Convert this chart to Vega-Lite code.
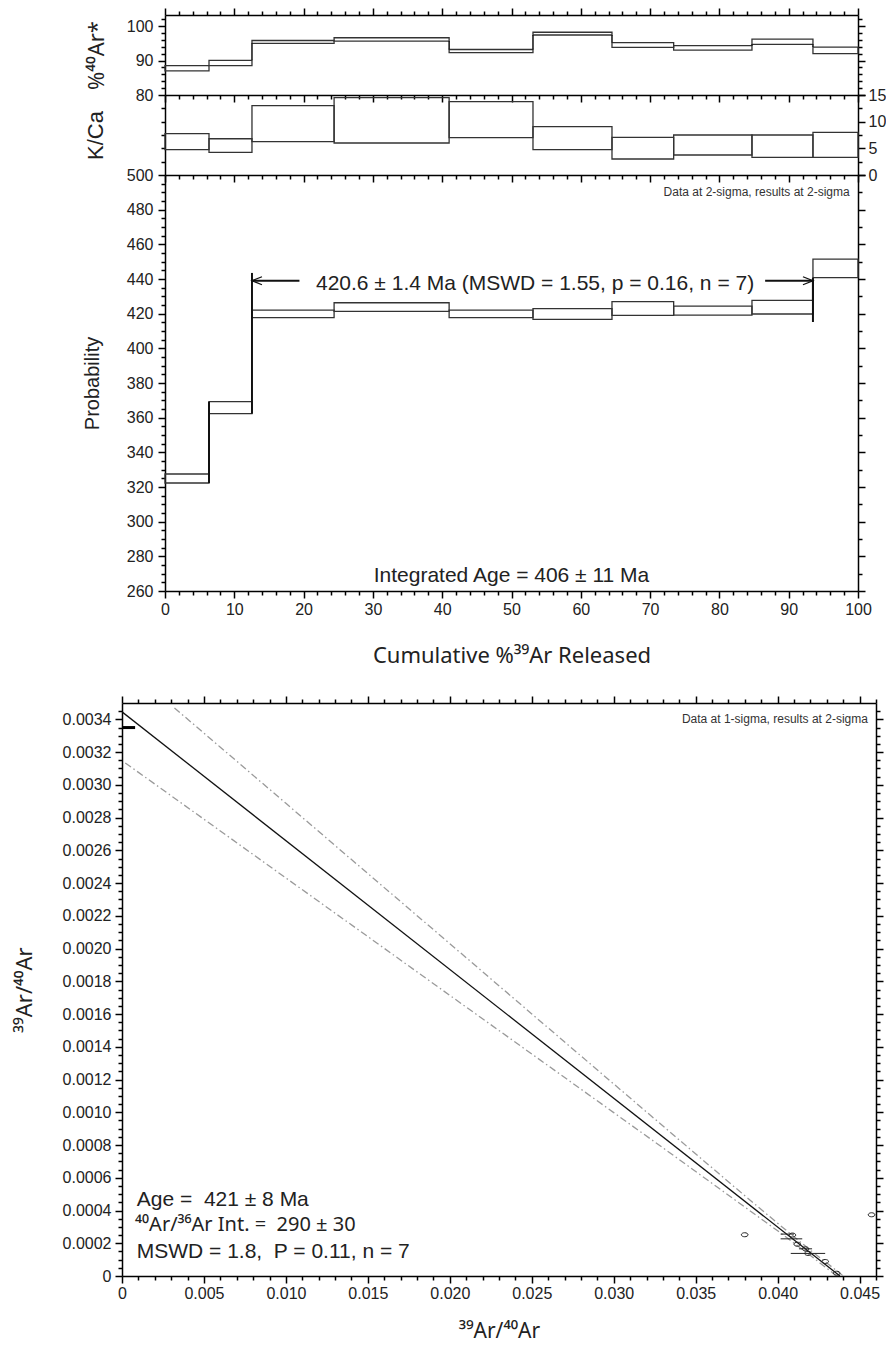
{
  "$schema": "https://vega.github.io/schema/vega-lite/v6.json",
  "padding": {"left": 13, "top": 7, "right": 0, "bottom": 10},
  "background": "white",
  "config": {
    "view": {"stroke": null},
    "font": "Liberation Sans",
    "axis": {"domainColor": "#000", "domainWidth": 1.5, "tickColor": "#000", "tickWidth": 1.5, "labelFont": "Liberation Sans", "labelFontSize": 16, "labelColor": "#222", "titleFont": "Liberation Sans", "titleFontWeight": "normal", "titleColor": "#222", "titleFontSize": 20, "grid": false, "labelFlush": false, "labelOverlap": false, "labelBound": false}
  },
  "datasets": {
    "steps": [
      {"step": 1, "x0": 0, "x1": 6.35, "ar_lo": 87.0, "ar_hi": 88.5, "kca_lo": 4.75, "kca_hi": 7.74, "age_lo": 322.3, "age_hi": 327.5},
      {"step": 2, "x0": 6.35, "x1": 12.55, "ar_lo": 88.5, "ar_hi": 90.05, "kca_lo": 4.25, "kca_hi": 6.8, "age_lo": 362.3, "age_hi": 369.2},
      {"step": 3, "x0": 12.55, "x1": 24.4, "ar_lo": 95.0, "ar_hi": 95.8, "kca_lo": 6.25, "kca_hi": 13.0, "age_lo": 417.7, "age_hi": 422.1},
      {"step": 4, "x0": 24.4, "x1": 41.0, "ar_lo": 95.65, "ar_hi": 96.6, "kca_lo": 6.0, "kca_hi": 14.5, "age_lo": 421.3, "age_hi": 426.3},
      {"step": 5, "x0": 41.0, "x1": 53.1, "ar_lo": 92.3, "ar_hi": 93.2, "kca_lo": 7.0, "kca_hi": 13.75, "age_lo": 417.7, "age_hi": 422.1},
      {"step": 6, "x0": 53.1, "x1": 64.5, "ar_lo": 97.4, "ar_hi": 98.2, "kca_lo": 4.75, "kca_hi": 9.06, "age_lo": 416.7, "age_hi": 422.9},
      {"step": 7, "x0": 64.5, "x1": 73.4, "ar_lo": 93.8, "ar_hi": 95.2, "kca_lo": 3.0, "kca_hi": 7.06, "age_lo": 419.0, "age_hi": 426.9},
      {"step": 8, "x0": 73.4, "x1": 84.7, "ar_lo": 93.0, "ar_hi": 94.3, "kca_lo": 3.75, "kca_hi": 7.5, "age_lo": 419.2, "age_hi": 424.4},
      {"step": 9, "x0": 84.7, "x1": 93.5, "ar_lo": 94.7, "ar_hi": 96.2, "kca_lo": 3.3, "kca_hi": 7.5, "age_lo": 419.8, "age_hi": 427.7},
      {"step": 10, "x0": 93.5, "x1": 100, "ar_lo": 92.0, "ar_hi": 93.9, "kca_lo": 3.3, "kca_hi": 8.0, "age_lo": 440.8, "age_hi": 451.5}
    ],
    "risers_ar": [
      {"x": 12.55, "lo": 90.05, "hi": 95.0},
      {"x": 41.0, "lo": 93.2, "hi": 95.65},
      {"x": 53.1, "lo": 93.2, "hi": 97.4},
      {"x": 64.5, "lo": 95.2, "hi": 97.4},
      {"x": 84.7, "lo": 94.3, "hi": 94.7},
      {"x": 93.5, "lo": 93.9, "hi": 94.7}
    ],
    "risers_age": [
      {"x": 6.35, "lo": 322.3, "hi": 369.2},
      {"x": 12.55, "lo": 362.3, "hi": 422.1},
      {"x": 93.5, "lo": 427.7, "hi": 440.8}
    ],
    "plateau_marks": [
      {"x": 12.55, "lo": 422.1, "hi": 443.5},
      {"x": 93.5, "lo": 415.2, "hi": 439.0}
    ],
    "plateau_arrows": [
      {"side": "left", "tip": 12.55, "tail": 19.4, "age": 439.0},
      {"side": "right", "tip": 93.5, "tail": 86.6, "age": 439.0}
    ],
    "iso_fit": [
      {"x": 0, "y": 0.003446},
      {"x": 0.0438, "y": 0}
    ],
    "iso_env": [
      {"band": "upper", "x": 0.0032, "y": 0.003470},
      {"band": "upper", "x": 0.006, "y": 0.003230},
      {"band": "upper", "x": 0.010, "y": 0.002887},
      {"band": "upper", "x": 0.015, "y": 0.002458},
      {"band": "upper", "x": 0.020, "y": 0.002030},
      {"band": "upper", "x": 0.025, "y": 0.001601},
      {"band": "upper", "x": 0.030, "y": 0.001173},
      {"band": "upper", "x": 0.034, "y": 0.000831},
      {"band": "upper", "x": 0.038, "y": 0.000490},
      {"band": "upper", "x": 0.040, "y": 0.000322},
      {"band": "upper", "x": 0.042, "y": 0.000157},
      {"band": "upper", "x": 0.0438, "y": 0.000017},
      {"band": "upper", "x": 0.0440, "y": 0.0},
      {"band": "lower", "x": 0.0002, "y": 0.003134},
      {"band": "lower", "x": 0.005, "y": 0.002790},
      {"band": "lower", "x": 0.010, "y": 0.002431},
      {"band": "lower", "x": 0.015, "y": 0.002073},
      {"band": "lower", "x": 0.020, "y": 0.001714},
      {"band": "lower", "x": 0.025, "y": 0.001356},
      {"band": "lower", "x": 0.030, "y": 0.000998},
      {"band": "lower", "x": 0.034, "y": 0.000711},
      {"band": "lower", "x": 0.038, "y": 0.000421},
      {"band": "lower", "x": 0.040, "y": 0.000276},
      {"band": "lower", "x": 0.042, "y": 0.000125},
      {"band": "lower", "x": 0.0436, "y": 0.0}
    ],
    "iso_pts": [
      {"x": 0.03799, "y": 0.000252},
      {"x": 0.04573, "y": 0.000374},
      {"x": 0.0409, "y": 0.000250},
      {"x": 0.0412, "y": 0.000194},
      {"x": 0.0417, "y": 0.000166},
      {"x": 0.04185, "y": 0.000138},
      {"x": 0.0429, "y": 0.0000886},
      {"x": 0.0436, "y": 0.000017}
    ],
    "iso_err": [
      {"y": 0.000256, "xlo": 0.04018, "xhi": 0.0410},
      {"y": 0.000227, "xlo": 0.04018, "xhi": 0.0415},
      {"y": 0.000166, "xlo": 0.0413, "xhi": 0.0421},
      {"y": 0.000138, "xlo": 0.0408, "xhi": 0.0429}
    ],
    "atm": [
      {"x": 0, "x2": 0.0008, "y": 0.00335}
    ]
  },
  "vconcat": [
    {
      "hconcat": [
        {
          "width": 43, "height": 576,
          "data": {"values": [{"k": 1}]},
          "mark": {"type": "point", "opacity": 0}
        },
        {
          "vconcat": [
            {
              "width": 693, "height": 80,
              "resolve": {"axis": {"x": "independent", "y": "independent"}},
              "layer": [
                {
                  "data": {"name": "steps"},
                  "mark": {"type": "rect", "filled": false, "stroke": "#333", "strokeWidth": 1.3},
                  "encoding": {
                    "x": {"field": "x0", "type": "quantitative", "scale": {"domain": [0, 100], "nice": false},
                      "axis": {"orient": "top", "values": [0,2,4,6,8,10,12,14,16,18,20,22,24,26,28,30,32,34,36,38,40,42,44,46,48,50,52,54,56,58,60,62,64,66,68,70,72,74,76,78,80,82,84,86,88,90,92,94,96,98,100], "labels": false, "title": null, "tickSize": {"condition": {"test": "datum.value % 10 === 0", "value": 7}, "value": 4}}},
                    "x2": {"field": "x1"},
                    "y": {"field": "ar_lo", "type": "quantitative", "scale": {"domain": [80, 103.2], "nice": false, "zero": false},
                      "axis": {"orient": "left", "values": [80,82,84,86,88,90,92,94,96,98,100,102], "labelExpr": "datum.value % 10 === 0 ? datum.label : ''", "labelPadding": 5, "tickSize": {"condition": {"test": "datum.value % 10 === 0", "value": 7}, "value": 4}, "title": "%⁴⁰Ar*", "titleFont": "Noto Sans", "titleFontSize": 22, "titlePadding": 18}},
                    "y2": {"field": "ar_hi"}
                  }
                },
                {
                  "data": {"name": "risers_ar"},
                  "mark": {"type": "rule", "stroke": "#111", "strokeWidth": 1.5},
                  "encoding": {
                    "x": {"field": "x", "type": "quantitative", "scale": {"domain": [0, 100], "nice": false},
                      "axis": {"orient": "bottom", "values": [0,2,4,6,8,10,12,14,16,18,20,22,24,26,28,30,32,34,36,38,40,42,44,46,48,50,52,54,56,58,60,62,64,66,68,70,72,74,76,78,80,82,84,86,88,90,92,94,96,98,100], "labels": false, "title": null, "tickSize": {"condition": {"test": "datum.value % 10 === 0", "value": 7}, "value": 4}}},
                    "y": {"field": "lo", "type": "quantitative", "scale": {"domain": [80, 103.2], "nice": false, "zero": false},
                      "axis": {"orient": "right", "values": [80,82,84,86,88,90,92,94,96,98,100,102], "labels": false, "title": null, "tickSize": {"condition": {"test": "datum.value % 10 === 0", "value": 7}, "value": 4}}},
                    "y2": {"field": "hi"}
                  }
                }
              ]
            },
            {
              "width": 693, "height": 80,
              "resolve": {"axis": {"x": "independent", "y": "independent"}},
              "data": {"name": "steps"},
              "layer": [
                {
                  "mark": {"type": "rect", "filled": false, "stroke": "#333", "strokeWidth": 1.3},
                  "encoding": {
                    "x": {"field": "x0", "type": "quantitative", "scale": {"domain": [0, 100], "nice": false},
                      "axis": {"orient": "bottom", "values": [0,2,4,6,8,10,12,14,16,18,20,22,24,26,28,30,32,34,36,38,40,42,44,46,48,50,52,54,56,58,60,62,64,66,68,70,72,74,76,78,80,82,84,86,88,90,92,94,96,98,100], "labels": false, "title": null, "tickSize": {"condition": {"test": "datum.value % 10 === 0", "value": 7}, "value": 4}}},
                    "x2": {"field": "x1"},
                    "y": {"field": "kca_lo", "type": "quantitative", "scale": {"domain": [0, 15], "nice": false},
                      "axis": {"orient": "left", "values": [2.5,5,7.5,10,12.5], "labels": false, "tickSize": 4, "title": "K/Ca", "titleFontSize": 22, "titlePadding": 53}},
                    "y2": {"field": "kca_hi"}
                  }
                },
                {
                  "mark": {"type": "rect", "filled": false, "stroke": "#333", "strokeWidth": 1.3, "opacity": 0},
                  "encoding": {
                    "x": {"field": "x0", "type": "quantitative", "scale": {"domain": [0, 100], "nice": false}, "axis": null},
                    "x2": {"field": "x1"},
                    "y": {"field": "kca_lo", "type": "quantitative", "scale": {"domain": [0, 15], "nice": false},
                      "axis": {"orient": "right", "values": [0,2.5,5,7.5,10,12.5,15], "labelExpr": "datum.value % 5 === 0 ? datum.label : ''", "labelPadding": 3, "tickSize": {"condition": {"test": "datum.value % 5 === 0", "value": 7}, "value": 4}, "title": null}},
                    "y2": {"field": "kca_hi"}
                  }
                }
              ]
            },
            {
              "width": 693, "height": 416,
              "resolve": {"axis": {"x": "independent", "y": "independent"}},
              "layer": [
                {
                  "data": {"name": "steps"},
                  "mark": {"type": "rect", "filled": false, "stroke": "#333", "strokeWidth": 1.3},
                  "encoding": {
                    "x": {"field": "x0", "type": "quantitative", "scale": {"domain": [0, 100], "nice": false},
                      "axis": {"orient": "bottom", "values": [0,2,4,6,8,10,12,14,16,18,20,22,24,26,28,30,32,34,36,38,40,42,44,46,48,50,52,54,56,58,60,62,64,66,68,70,72,74,76,78,80,82,84,86,88,90,92,94,96,98,100], "labelExpr": "datum.value % 10 === 0 ? datum.label : ''", "labelPadding": 3, "tickSize": {"condition": {"test": "datum.value % 10 === 0", "value": 7}, "value": 4}, "title": "Cumulative %³⁹Ar Released", "titleFont": "Noto Sans", "titleFontSize": 22, "titlePadding": 28}},
                    "x2": {"field": "x1"},
                    "y": {"field": "age_lo", "type": "quantitative", "scale": {"domain": [260, 500], "nice": false, "zero": false},
                      "axis": {"orient": "left", "values": [260,265,270,275,280,285,290,295,300,305,310,315,320,325,330,335,340,345,350,355,360,365,370,375,380,385,390,395,400,405,410,415,420,425,430,435,440,445,450,455,460,465,470,475,480,485,490,495,500], "labelExpr": "datum.value % 20 === 0 ? datum.label : ''", "labelPadding": 5, "tickSize": {"condition": {"test": "datum.value % 20 === 0", "value": 7}, "value": 4}, "title": "Probability", "titlePadding": 24}},
                    "y2": {"field": "age_hi"}
                  }
                },
                {
                  "data": {"name": "risers_age"},
                  "mark": {"type": "rule", "stroke": "#111", "strokeWidth": 2},
                  "encoding": {
                    "x": {"field": "x", "type": "quantitative", "scale": {"domain": [0, 100], "nice": false}, "axis": null},
                    "y": {"field": "lo", "type": "quantitative", "scale": {"domain": [260, 500], "nice": false, "zero": false},
                      "axis": {"orient": "right", "values": [260,270,280,290,300,310,320,330,340,350,360,370,380,390,400,410,420,430,440,450,460,470,480,490,500], "labels": false, "title": null, "tickSize": {"condition": {"test": "datum.value % 20 === 0", "value": 7}, "value": 4}}},
                    "y2": {"field": "hi"}
                  }
                },
                {
                  "data": {"name": "plateau_marks"},
                  "mark": {"type": "rule", "stroke": "#111", "strokeWidth": 2},
                  "encoding": {
                    "x": {"field": "x", "type": "quantitative", "scale": {"domain": [0, 100], "nice": false}, "axis": null},
                    "y": {"field": "lo", "type": "quantitative", "scale": {"domain": [260, 500], "nice": false, "zero": false}, "axis": null},
                    "y2": {"field": "hi"}
                  }
                },
                {
                  "data": {"name": "plateau_arrows"},
                  "mark": {"type": "rule", "stroke": "#111", "strokeWidth": 2},
                  "encoding": {
                    "x": {"field": "tip", "type": "quantitative", "scale": {"domain": [0, 100], "nice": false}, "axis": null},
                    "x2": {"field": "tail"},
                    "y": {"field": "age", "type": "quantitative", "scale": {"domain": [260, 500], "nice": false, "zero": false}, "axis": null}
                  }
                },
                {
                  "data": {"name": "plateau_arrows"},
                  "mark": {"type": "point", "filled": false, "stroke": "#111", "strokeWidth": 1.3, "size": 64, "opacity": 1},
                  "encoding": {
                    "x": {"field": "tip", "type": "quantitative", "scale": {"domain": [0, 100], "nice": false}, "axis": null},
                    "y": {"field": "age", "type": "quantitative", "scale": {"domain": [260, 500], "nice": false, "zero": false}, "axis": null},
                    "shape": {"field": "side", "type": "nominal", "scale": {"domain": ["left", "right"], "range": ["M2.5,-1L0,0L2.5,1", "M-2.5,-1L0,0L-2.5,1"]}, "legend": null}
                  }
                },
                {
                  "data": {"values": [{"label": "420.6 ± 1.4 Ma (MSWD = 1.55, p = 0.16, n = 7)"}]},
                  "mark": {"type": "text", "font": "Liberation Sans", "fontSize": 21, "color": "#222", "align": "center", "baseline": "alphabetic"},
                  "encoding": {
                    "x": {"datum": 53.4, "type": "quantitative", "scale": {"domain": [0, 100], "nice": false}, "axis": null},
                    "y": {"datum": 433.6, "type": "quantitative", "scale": {"domain": [260, 500], "nice": false, "zero": false}, "axis": null},
                    "text": {"field": "label"}
                  }
                },
                {
                  "data": {"values": [{"label": "Integrated Age = 406 ± 11 Ma"}]},
                  "mark": {"type": "text", "font": "Liberation Sans", "fontSize": 21, "color": "#222", "align": "center", "baseline": "alphabetic"},
                  "encoding": {
                    "x": {"datum": 50, "type": "quantitative", "scale": {"domain": [0, 100], "nice": false}, "axis": null},
                    "y": {"datum": 265.3, "type": "quantitative", "scale": {"domain": [260, 500], "nice": false, "zero": false}, "axis": null},
                    "text": {"field": "label"}
                  }
                },
                {
                  "data": {"values": [{"label": "Data at 2-sigma, results at 2-sigma"}]},
                  "mark": {"type": "text", "font": "Liberation Sans", "fontSize": 12, "color": "#333", "align": "right", "baseline": "alphabetic"},
                  "encoding": {
                    "x": {"datum": 98.8, "type": "quantitative", "scale": {"domain": [0, 100], "nice": false}, "axis": null},
                    "y": {"datum": 488, "type": "quantitative", "scale": {"domain": [260, 500], "nice": false, "zero": false}, "axis": null},
                    "text": {"field": "label"}
                  }
                }
              ]
            }
          ],
          "spacing": 0,
          "bounds": "flush"
        }
      ],
      "spacing": 0,
      "bounds": "flush"
    },
    {
      "width": 754, "height": 573,
      "resolve": {"axis": {"x": "independent", "y": "independent"}},
      "layer": [
        {
          "data": {"name": "iso_fit"},
          "mark": {"type": "line", "stroke": "#111", "strokeWidth": 1.3, "clip": true},
          "encoding": {
            "x": {"field": "x", "type": "quantitative", "scale": {"domain": [0, 0.046], "nice": false},
              "axis": {"orient": "bottom", "values": [0,0.001,0.002,0.003,0.004,0.005,0.006,0.007,0.008,0.009,0.01,0.011,0.012,0.013,0.014,0.015,0.016,0.017,0.018,0.019,0.02,0.021,0.022,0.023,0.024,0.025,0.026,0.027,0.028,0.029,0.03,0.031,0.032,0.033,0.034,0.035,0.036,0.037,0.038,0.039,0.04,0.041,0.042,0.043,0.044,0.045,0.046], "labelExpr": "abs(datum.value/0.005 - round(datum.value/0.005)) < 1e-6 ? (datum.value == 0 ? '0' : format(datum.value, '.3f')) : ''", "labelPadding": 2, "tickSize": {"condition": {"test": "abs(datum.value/0.005 - round(datum.value/0.005)) < 1e-6", "value": 7}, "value": 4}, "title": "³⁹Ar/⁴⁰Ar", "titleFont": "Noto Sans", "titleFontSize": 21, "titlePadding": 19}},
            "y": {"field": "y", "type": "quantitative", "scale": {"domain": [0, 0.0035], "nice": false},
              "axis": {"orient": "left", "values": [0,0.00005,0.0001,0.00015,0.0002,0.00025,0.0003,0.00035,0.0004,0.00045,0.0005,0.00055,0.0006,0.00065,0.0007,0.00075,0.0008,0.00085,0.0009,0.00095,0.001,0.00105,0.0011,0.00115,0.0012,0.00125,0.0013,0.00135,0.0014,0.00145,0.0015,0.00155,0.0016,0.00165,0.0017,0.00175,0.0018,0.00185,0.0019,0.00195,0.002,0.00205,0.0021,0.00215,0.0022,0.00225,0.0023,0.00235,0.0024,0.00245,0.0025,0.00255,0.0026,0.00265,0.0027,0.00275,0.0028,0.00285,0.0029,0.00295,0.003,0.00305,0.0031,0.00315,0.0032,0.00325,0.0033,0.00335,0.0034,0.00345], "labelExpr": "abs(datum.value/0.0002 - round(datum.value/0.0002)) < 1e-6 ? (datum.value == 0 ? '0' : format(datum.value, '.4f')) : ''", "labelPadding": 4, "tickSize": {"condition": {"test": "abs(datum.value/0.0002 - round(datum.value/0.0002)) < 1e-6", "value": 7}, "value": 4}, "title": "³⁹Ar/⁴⁰Ar", "titleFont": "Noto Sans", "titleFontSize": 22, "titlePadding": 26}}
          }
        },
        {
          "data": {"name": "iso_env"},
          "mark": {"type": "line", "stroke": "#9a9a9a", "strokeWidth": 1.3, "strokeDash": [7, 3, 1.5, 3], "clip": true},
          "encoding": {
            "x": {"field": "x", "type": "quantitative", "scale": {"domain": [0, 0.046], "nice": false},
              "axis": {"orient": "top", "values": [0,0.001,0.002,0.003,0.004,0.005,0.006,0.007,0.008,0.009,0.01,0.011,0.012,0.013,0.014,0.015,0.016,0.017,0.018,0.019,0.02,0.021,0.022,0.023,0.024,0.025,0.026,0.027,0.028,0.029,0.03,0.031,0.032,0.033,0.034,0.035,0.036,0.037,0.038,0.039,0.04,0.041,0.042,0.043,0.044,0.045,0.046], "labels": false, "title": null, "tickSize": {"condition": {"test": "abs(datum.value/0.005 - round(datum.value/0.005)) < 1e-6", "value": 7}, "value": 4}}},
            "y": {"field": "y", "type": "quantitative", "scale": {"domain": [0, 0.0035], "nice": false},
              "axis": {"orient": "right", "values": [0,0.00005,0.0001,0.00015,0.0002,0.00025,0.0003,0.00035,0.0004,0.00045,0.0005,0.00055,0.0006,0.00065,0.0007,0.00075,0.0008,0.00085,0.0009,0.00095,0.001,0.00105,0.0011,0.00115,0.0012,0.00125,0.0013,0.00135,0.0014,0.00145,0.0015,0.00155,0.0016,0.00165,0.0017,0.00175,0.0018,0.00185,0.0019,0.00195,0.002,0.00205,0.0021,0.00215,0.0022,0.00225,0.0023,0.00235,0.0024,0.00245,0.0025,0.00255,0.0026,0.00265,0.0027,0.00275,0.0028,0.00285,0.0029,0.00295,0.003,0.00305,0.0031,0.00315,0.0032,0.00325,0.0033,0.00335,0.0034,0.00345], "labels": false, "title": null, "tickSize": {"condition": {"test": "abs(datum.value/0.0002 - round(datum.value/0.0002)) < 1e-6", "value": 7}, "value": 4}}},
            "detail": {"field": "band"}
          }
        },
        {
          "data": {"name": "iso_err"},
          "mark": {"type": "rule", "stroke": "#222", "strokeWidth": 1},
          "encoding": {
            "x": {"field": "xlo", "type": "quantitative", "scale": {"domain": [0, 0.046], "nice": false}, "axis": null},
            "x2": {"field": "xhi"},
            "y": {"field": "y", "type": "quantitative", "scale": {"domain": [0, 0.0035], "nice": false}, "axis": null}
          }
        },
        {
          "data": {"name": "iso_pts"},
          "mark": {"type": "point", "filled": false, "stroke": "#222", "strokeWidth": 1, "size": 45, "shape": "M-1,0A1,0.6,0,1,1,1,0A1,0.6,0,1,1,-1,0Z", "opacity": 1},
          "encoding": {
            "x": {"field": "x", "type": "quantitative", "scale": {"domain": [0, 0.046], "nice": false}, "axis": null},
            "y": {"field": "y", "type": "quantitative", "scale": {"domain": [0, 0.0035], "nice": false}, "axis": null}
          }
        },
        {
          "data": {"name": "atm"},
          "mark": {"type": "rule", "stroke": "#000", "strokeWidth": 3},
          "encoding": {
            "x": {"field": "x", "type": "quantitative", "scale": {"domain": [0, 0.046], "nice": false}, "axis": null},
            "x2": {"field": "x2"},
            "y": {"field": "y", "type": "quantitative", "scale": {"domain": [0, 0.0035], "nice": false}, "axis": null}
          }
        },
        {
          "data": {"values": [{"label": "Data at 1-sigma, results at 2-sigma"}]},
          "mark": {"type": "text", "font": "Liberation Sans", "fontSize": 12, "color": "#333", "align": "right", "baseline": "alphabetic"},
          "encoding": {
            "x": {"datum": 0.04551, "type": "quantitative", "scale": {"domain": [0, 0.046], "nice": false}, "axis": null},
            "y": {"datum": 0.003375, "type": "quantitative", "scale": {"domain": [0, 0.0035], "nice": false}, "axis": null},
            "text": {"field": "label"}
          }
        },
        {
          "data": {"values": [{"label": "Age = \u00a0421 ± 8 Ma"}]},
          "mark": {"type": "text", "font": "Liberation Sans", "fontSize": 21, "color": "#222", "align": "left", "baseline": "alphabetic"},
          "encoding": {
            "x": {"datum": 0.0009, "type": "quantitative", "scale": {"domain": [0, 0.046], "nice": false}, "axis": null},
            "y": {"datum": 0.000425, "type": "quantitative", "scale": {"domain": [0, 0.0035], "nice": false}, "axis": null},
            "text": {"field": "label"}
          }
        },
        {
          "data": {"values": [{"label": "⁴⁰Ar/³⁶Ar Int. = \u00a0290 ± 30"}]},
          "mark": {"type": "text", "font": "Noto Sans", "fontSize": 20, "color": "#222", "align": "left", "baseline": "alphabetic"},
          "encoding": {
            "x": {"datum": 0.0008, "type": "quantitative", "scale": {"domain": [0, 0.046], "nice": false}, "axis": null},
            "y": {"datum": 0.000272, "type": "quantitative", "scale": {"domain": [0, 0.0035], "nice": false}, "axis": null},
            "text": {"field": "label"}
          }
        },
        {
          "data": {"values": [{"label": "MSWD = 1.8, \u00a0P = 0.11, n = 7"}]},
          "mark": {"type": "text", "font": "Liberation Sans", "fontSize": 21, "color": "#222", "align": "left", "baseline": "alphabetic"},
          "encoding": {
            "x": {"datum": 0.0009, "type": "quantitative", "scale": {"domain": [0, 0.046], "nice": false}, "axis": null},
            "y": {"datum": 0.000109, "type": "quantitative", "scale": {"domain": [0, 0.0035], "nice": false}, "axis": null},
            "text": {"field": "label"}
          }
        }
      ]
    }
  ],
  "spacing": 29,
  "bounds": "full"
}
